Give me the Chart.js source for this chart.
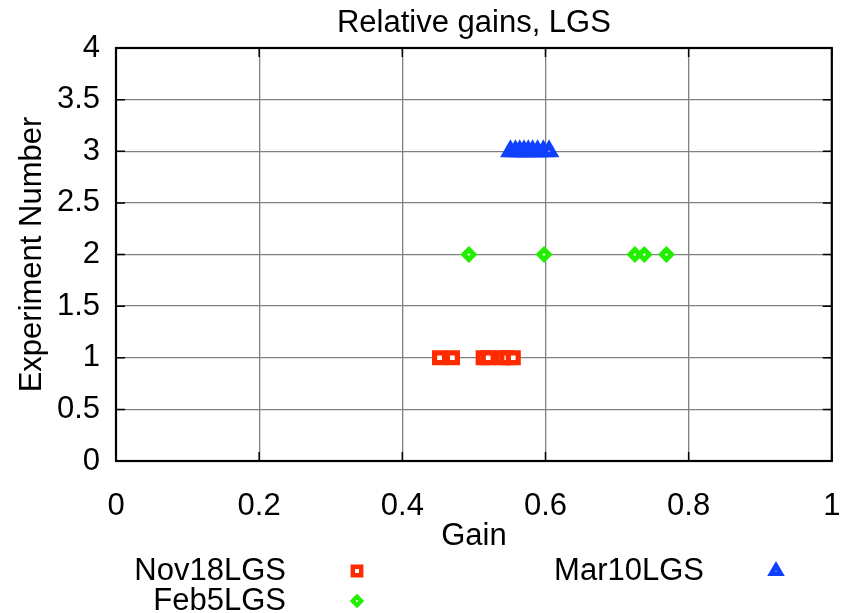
<!DOCTYPE html>
<html>
<head>
<meta charset="utf-8">
<script src="https://cdn.jsdelivr.net/npm/chart.js@4.4.1/dist/chart.umd.min.js"></script>
<style>
  body { margin: 0; background: #fff; }
  #wrap { width: 844px; height: 613px; }
</style>
</head>
<body>
<div id="wrap"><canvas id="chart"></canvas></div>
<script>
// data
const seriesNames = ['Nov18LGS', 'Feb5LGS', 'Mar10LGS'];
const experimentNumbers = [1, 2, 3];
const nov18Gains = [0.452, 0.470, 0.513, 0.520, 0.539, 0.546, 0.555];
const feb5Gains = [0.493, 0.598, 0.725, 0.738, 0.769];
const mar10Gains = [0.551, 0.558, 0.564, 0.570, 0.576, 0.582, 0.589, 0.597, 0.605];
const xTicks = [0, 0.2, 0.4, 0.6, 0.8, 1];
const xTickLabels = ['0', '0.2', '0.4', '0.6', '0.8', '1'];
const yTicks = [0, 0.5, 1, 1.5, 2, 2.5, 3, 3.5, 4];
const yTickLabels = ['0', '0.5', '1', '1.5', '2', '2.5', '3', '3.5', '4'];

const FONT = "'Liberation Sans', Arial, Helvetica, sans-serif";
const FONT_SIZE = 31;
const colors = ['#ff2a00', '#22ee00', '#1040ff'];
const styles = [
    { pointStyle: 'rect', radius: 7, borderWidth: 5.2 },
    { pointStyle: 'rectRot', radius: 5, borderWidth: 5 },
    { pointStyle: 'triangle', radius: 6.4, borderWidth: 5.5 }
];

function toPoints(gains, exp) {
    return gains.map(g => ({ x: g, y: exp }));
}

const datasets = [nov18Gains, feb5Gains, mar10Gains].map((gains, i) => ({
    label: seriesNames[i],
    data: toPoints(gains, experimentNumbers[i]),
    showLine: false,
    pointStyle: styles[i].pointStyle,
    pointRadius: styles[i].radius,
    pointHoverRadius: styles[i].radius,
    pointBorderWidth: styles[i].borderWidth,
    borderWidth: styles[i].borderWidth,
    pointBorderColor: colors[i],
    borderColor: colors[i],
    pointBackgroundColor: '#ffffff',
    backgroundColor: '#ffffff'
}));

// frame, inner tick marks and the gnuplot style key
const framePlugin = {
    id: 'frame',
    afterDatasetsDraw(chart) {
        const { ctx, chartArea: a, scales } = chart;
        ctx.save();
        ctx.strokeStyle = '#000';
        ctx.lineWidth = 1.5;
        ctx.beginPath();
        scales.x.ticks.forEach(t => {
            const px = scales.x.getPixelForValue(t.value);
            ctx.moveTo(px, a.bottom); ctx.lineTo(px, a.bottom - 9);
            ctx.moveTo(px, a.top); ctx.lineTo(px, a.top + 9);
        });
        scales.y.ticks.forEach(t => {
            const py = scales.y.getPixelForValue(t.value);
            ctx.moveTo(a.left, py); ctx.lineTo(a.left + 9, py);
            ctx.moveTo(a.right, py); ctx.lineTo(a.right - 9, py);
        });
        ctx.stroke();
        ctx.lineWidth = 2.2;
        ctx.strokeRect(a.left, a.top, a.right - a.left, a.bottom - a.top);
        ctx.restore();
    },
    afterDraw(chart) {
        const { ctx } = chart;
        const slots = [
            { tx: 286, mx: 357, y: 571 },
            { tx: 286, mx: 357, y: 601 },
            { tx: 704, mx: 776, y: 571 }
        ];
        ctx.save();
        ctx.font = FONT_SIZE + 'px ' + FONT;
        ctx.textAlign = 'right';
        ctx.textBaseline = 'middle';
        chart.data.datasets.forEach((ds, i) => {
            const s = slots[i];
            ctx.fillStyle = '#000';
            ctx.fillText(ds.label, s.tx, s.y);
            ctx.fillStyle = ds.pointBackgroundColor;
            ctx.strokeStyle = ds.pointBorderColor;
            ctx.lineWidth = ds.pointBorderWidth * 0.85;
            Chart.helpers.drawPoint(ctx, {
                pointStyle: ds.pointStyle,
                radius: ds.pointRadius * 0.85,
                rotation: 0,
                borderWidth: ds.pointBorderWidth * 0.85
            }, s.mx, s.y);
        });
        ctx.restore();
    }
};

new Chart(document.getElementById('chart'), {
    type: 'scatter',
    data: { datasets },
    options: {
        responsive: true,
        maintainAspectRatio: false,
        devicePixelRatio: 1,
        animation: false,
        layout: { padding: { left: 0, right: 7, top: 0, bottom: 58 } },
        plugins: {
            legend: { display: false },
            tooltip: { enabled: false },
            title: {
                display: true,
                fullSize: false,
                text: 'Relative gains, LGS',
                color: '#000',
                font: { family: FONT, size: FONT_SIZE, weight: 'normal' },
                padding: { top: 5, bottom: 5.8 }
            }
        },
        scales: {
            x: {
                type: 'linear',
                min: xTicks[0],
                max: xTicks[xTicks.length - 1],
                afterBuildTicks: s => { s.ticks = xTicks.map(v => ({ value: v })); },
                afterFit: s => { s.height = 94; s.paddingLeft = 0; s.paddingRight = 0; },
                border: { display: false },
                grid: { color: '#808080', lineWidth: 1.3, drawTicks: false },
                ticks: {
                    color: '#000',
                    padding: 27,
                    maxRotation: 0,
                    font: { family: FONT, size: FONT_SIZE },
                    callback: (v, i) => xTickLabels[i]
                },
                title: {
                    display: true,
                    text: 'Gain',
                    color: '#000',
                    font: { family: FONT, size: FONT_SIZE },
                    padding: { top: 0, bottom: 0 }
                }
            },
            y: {
                type: 'linear',
                min: yTicks[0],
                max: yTicks[yTicks.length - 1],
                afterBuildTicks: s => { s.ticks = yTicks.map(v => ({ value: v })); },
                afterFit: s => { s.width = 116; },
                border: { display: false },
                grid: { color: '#808080', lineWidth: 1.3, drawTicks: false },
                ticks: {
                    color: '#000',
                    padding: 16,
                    font: { family: FONT, size: FONT_SIZE },
                    callback: (v, i) => yTickLabels[i]
                },
                title: {
                    display: true,
                    text: 'Experiment Number',
                    color: '#000',
                    font: { family: FONT, size: FONT_SIZE },
                    padding: { top: 14, bottom: 0 }
                }
            }
        }
    },
    plugins: [framePlugin]
});
</script>
</body>
</html>
